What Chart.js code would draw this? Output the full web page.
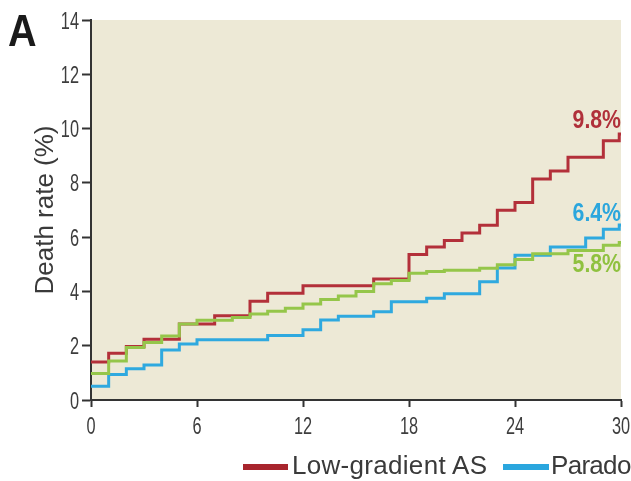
<!DOCTYPE html>
<html>
<head>
<meta charset="utf-8">
<script src="https://cdn.jsdelivr.net/npm/chart.js@4/dist/chart.umd.min.js"></script>
<style>
  html, body { margin: 0; padding: 0; background: #fff; }
  #wrap { position: relative; width: 631px; height: 481px; overflow: hidden; }
  #panel { position: absolute; left: 8px; top: 9px; font: bold 44px/1 "Liberation Sans", Arial, sans-serif; color: #1a1a1a; transform: scaleX(0.9); transform-origin: left top; }
  .sw { position: absolute; top: 464px; height: 6px; }
  .lg { position: absolute; top: 452px; font: 26px/26px "Liberation Sans", Arial, sans-serif; color: #3a3a3a; white-space: nowrap; }
</style>
</head>
<body>
<div id="wrap">
  <canvas id="km" width="631" height="481"></canvas>
  <div id="panel">A</div>
</div>
<script>
// months at which each curve steps, and the death rate (%) from that month on
const lowGradMonths = [0, 1, 2, 3, 5, 7, 9, 10, 12, 16, 18, 19, 20, 21, 22, 23, 24, 25, 26, 27, 29, 29.9, 30];
const lowGradRates  = [1.4, 1.72, 1.97, 2.24, 2.8, 3.1, 3.64, 3.93, 4.21, 4.46, 5.36, 5.64, 5.88, 6.15, 6.44, 6.99, 7.28, 8.14, 8.44, 8.94, 9.55, 9.8, 9.8];

const paradoxMonths = [0, 1, 2, 3, 4, 5, 6, 10, 12, 13, 14, 16, 17, 19, 20, 22, 23, 24, 26, 28, 29, 29.9, 30];
const paradoxRates  = [0.51, 0.94, 1.15, 1.29, 1.84, 2.06, 2.22, 2.38, 2.59, 2.95, 3.09, 3.25, 3.62, 3.75, 3.91, 4.36, 4.86, 5.33, 5.64, 5.97, 6.29, 6.45, 6.45];

const normalMonths = [0, 1, 2, 3, 4, 5, 6, 8, 9, 10, 11, 12, 13, 14, 15, 16, 17, 18, 19, 20, 22, 23, 24, 25, 27, 29, 29.9, 30];
const normalRates  = [0.98, 1.44, 1.93, 2.12, 2.36, 2.8, 2.94, 3.04, 3.17, 3.27, 3.38, 3.54, 3.7, 3.83, 4.0, 4.28, 4.4, 4.67, 4.73, 4.78, 4.85, 4.98, 5.18, 5.39, 5.51, 5.7, 5.8, 5.8];

const seriesNames = ['Low-gradient AS', 'Parado', 'Normal'];
const endLabels = ['9.8%', '6.4%', '5.8%'];
const xTicks = [0, 6, 12, 18, 24, 30];
const yTicks = [0, 2, 4, 6, 8, 10, 12, 14];

const colors = ['#b3303a', '#2fa9df', '#95c64a'];
const labelColors = ['#b0303a', '#2ba6dd', '#8fc13f'];
const swatchColors = ['#a8252d', '#2aa6de'];
const labelOffsets = [-13, -11, 23];   // px above/below the curve end
const sans = '"Liberation Sans", Arial, sans-serif';

const toPoints = (xs, ys) => xs.map((m, i) => ({ x: m, y: ys[i] }));
const curves = [
    toPoints(lowGradMonths, lowGradRates),
    toPoints(paradoxMonths, paradoxRates),
    toPoints(normalMonths, normalRates)
];

// draw text squeezed horizontally, the figure uses a condensed face
function narrowText(ctx, text, x, y, squeeze) {
    ctx.save();
    ctx.translate(x, y);
    ctx.scale(squeeze, 1);
    ctx.fillText(text, 0, 0);
    ctx.restore();
}

// beige plot panel behind the curves
const panelBg = {
    id: 'panelBg',
    beforeDraw(chart) {
        const { ctx, chartArea: a } = chart;
        ctx.save();
        ctx.fillStyle = '#ede9d6';
        ctx.fillRect(a.left, a.top, a.right - a.left, a.bottom - a.top);
        ctx.restore();
    }
};

// tick labels in a condensed look, placed from the scales' own ticks
const condensedTicks = {
    id: 'condensedTicks',
    afterDraw(chart) {
        const { ctx, scales: { x, y } } = chart;
        ctx.save();
        ctx.fillStyle = '#3d3d3d';
        ctx.font = '24px ' + sans;
        ctx.textBaseline = 'alphabetic';
        ctx.textAlign = 'center';
        x.ticks.forEach(t => narrowText(ctx, String(t.value), x.getPixelForValue(t.value), x.top + 34, 0.68));
        ctx.textAlign = 'right';
        y.ticks.forEach(t => narrowText(ctx, String(t.value), y.right - 12, y.getPixelForValue(t.value) + 8.5, 0.68));
        ctx.restore();
    }
};

// percentages written at the right end of each curve
const endText = {
    id: 'endText',
    afterDatasetsDraw(chart) {
        const { ctx, scales: { x, y } } = chart;
        ctx.save();
        ctx.font = 'bold 25px ' + sans;
        ctx.textAlign = 'right';
        ctx.textBaseline = 'middle';
        curves.forEach((pts, i) => {
            const last = pts[pts.length - 1];
            ctx.fillStyle = labelColors[i];
            narrowText(ctx, endLabels[i], x.getPixelForValue(last.x), y.getPixelForValue(last.y) + labelOffsets[i], 0.85);
        });
        ctx.restore();
    }
};

new Chart(document.getElementById('km'), {
    type: 'line',
    data: {
        datasets: curves.map((pts, i) => ({
            label: seriesNames[i],
            data: pts,
            borderColor: colors[i],
            borderWidth: 3,
            stepped: true,
            pointRadius: 0,
            fill: false
        })).reverse()
    },
    options: {
        responsive: false,
        animation: false,
        layout: { padding: { top: 20, right: 10, left: 0, bottom: 0 } },
        plugins: { legend: { display: false }, tooltip: { enabled: false } },
        scales: {
            x: {
                type: 'linear',
                min: 0,
                max: 30,
                afterBuildTicks: s => { s.ticks = xTicks.map(v => ({ value: v })); },
                ticks: { display: false },
                grid: { drawOnChartArea: false, tickLength: 7, tickColor: '#333', tickWidth: 2 },
                border: { color: '#333', width: 2 },
                afterFit: s => { s.height = 81; s.paddingLeft = 0; s.paddingRight = 0; }
            },
            y: {
                min: 0,
                max: 14,
                afterBuildTicks: s => { s.ticks = yTicks.map(v => ({ value: v })); },
                ticks: { display: false },
                grid: { drawOnChartArea: false, tickLength: 9, tickColor: '#333', tickWidth: 2 },
                border: { color: '#333', width: 2 },
                title: {
                    display: true,
                    text: 'Death rate (%)',
                    color: '#3a3a3a',
                    font: { family: sans, size: 26 },
                    padding: { top: 30, bottom: 0 }
                },
                afterFit: s => { s.width = 91; s.paddingTop = 0; s.paddingBottom = 0; }
            }
        }
    },
    plugins: [panelBg, condensedTicks, endText]
});

// legend: only the first two entries fit in the picture
const wrap = document.getElementById('wrap');
const legendSpots = [
    { sw: 243, w: 45, tx: 292, track: '0.3px' },
    { sw: 503, w: 46, tx: 551, track: '-0.7px' }
];
legendSpots.forEach((p, i) => {
    const sw = document.createElement('div');
    sw.className = 'sw';
    sw.style.left = p.sw + 'px';
    sw.style.width = p.w + 'px';
    sw.style.background = swatchColors[i];
    const tx = document.createElement('div');
    tx.className = 'lg';
    tx.style.left = p.tx + 'px';
    tx.style.letterSpacing = p.track;
    tx.textContent = seriesNames[i];
    wrap.appendChild(sw);
    wrap.appendChild(tx);
});
</script>
</body>
</html>
